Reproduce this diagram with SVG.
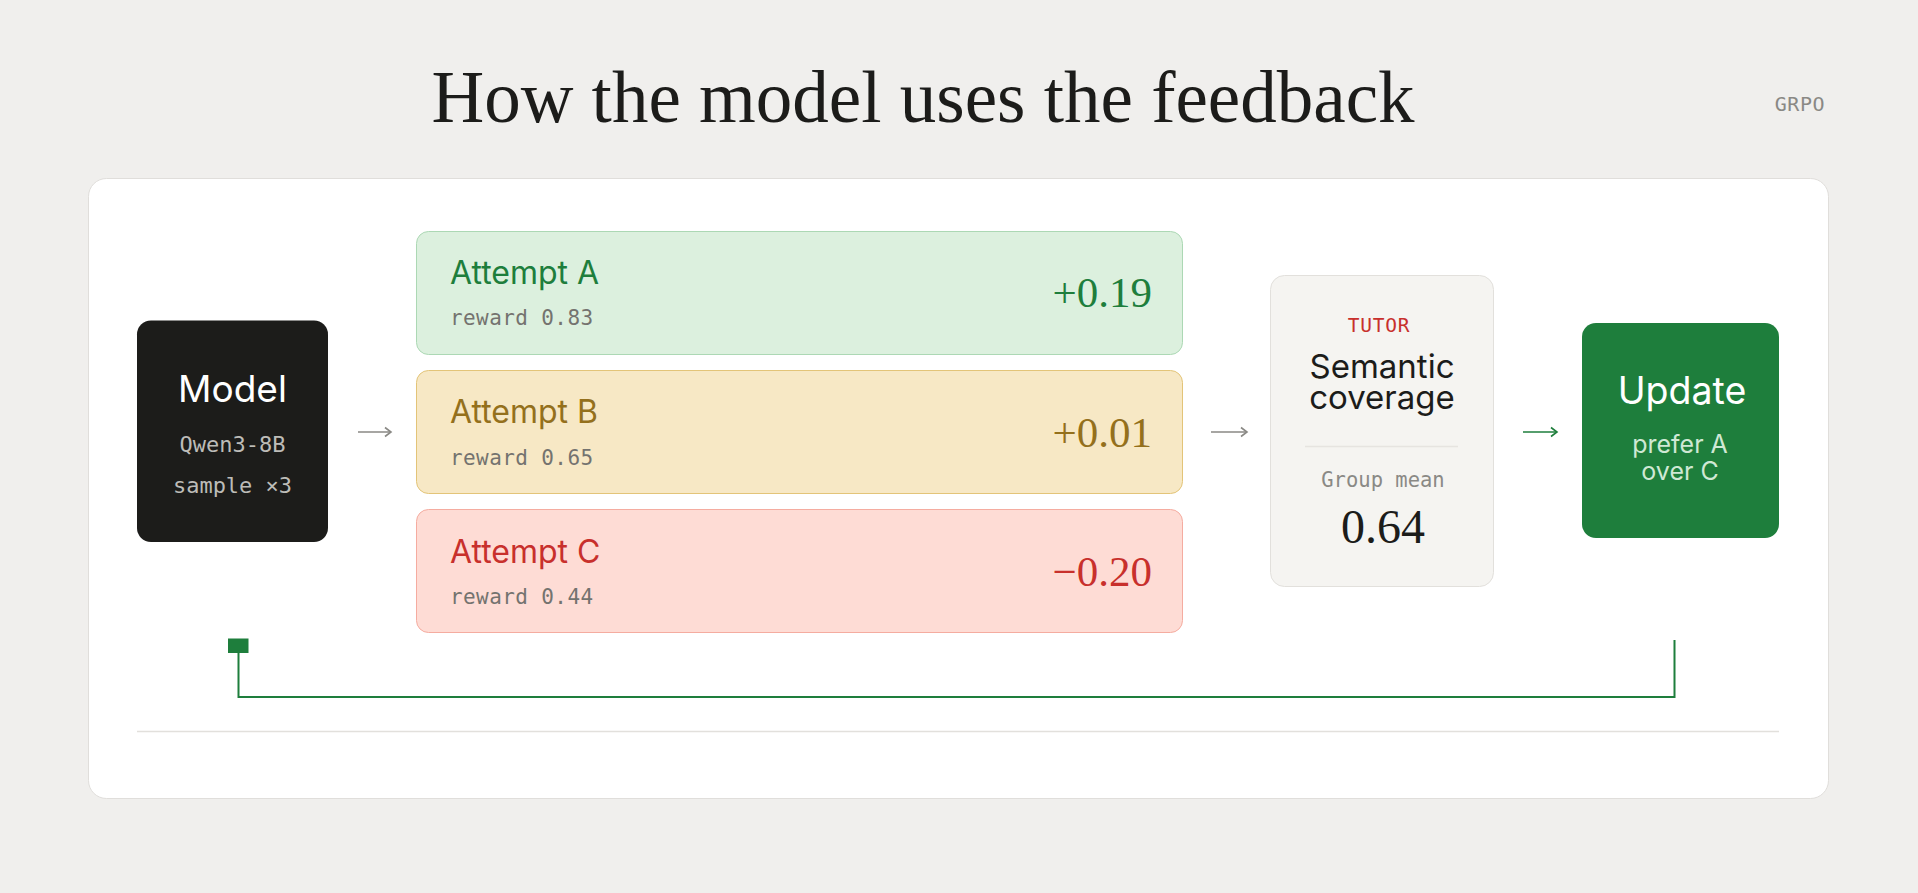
<svg xmlns="http://www.w3.org/2000/svg" width="1918" height="893" viewBox="0 0 1918 893">
<style>
.sans{font-family:Inter,"Open Sans","Liberation Sans",sans-serif}
.mono{font-family:"DejaVu Sans Mono","Liberation Mono",monospace}
.serif{font-family:"Liberation Serif","DejaVu Serif",serif}
.att{font-size:32px}
.rew{font-size:21px;fill:#74736f;letter-spacing:0.4px}
.delta{font-size:43px;text-anchor:end}
.arrow{fill:none;stroke-width:1.6}
</style>
<defs>
<marker id="hg" markerUnits="userSpaceOnUse" markerWidth="12" markerHeight="12" refX="8" refY="6" orient="auto">
<path d="M2,1.5 L8,6 L2,10.5" fill="none" stroke="#8a8985" stroke-width="1.6"/>
</marker>
<marker id="hgreen" markerUnits="userSpaceOnUse" markerWidth="12" markerHeight="12" refX="8" refY="6" orient="auto">
<path d="M2,1.5 L8,6 L2,10.5" fill="none" stroke="#1e7e3c" stroke-width="1.6"/>
</marker>
</defs>
<rect width="1918" height="893" fill="#f0efed"/>
<text class="serif" x="923" y="122" font-size="73" text-anchor="middle" fill="#1c1c1a">How the model uses the feedback</text>
<text class="mono" x="1825" y="111" font-size="20" text-anchor="end" fill="#8a8985" letter-spacing="0.5">GRPO</text>
<rect x="88.5" y="178.5" width="1740" height="620" rx="18" fill="#ffffff" stroke="#e0dedb" stroke-width="1"/>
<line x1="137" y1="731.5" x2="1779" y2="731.5" stroke="#e2e0dc" stroke-width="1.5"/>

<g id="model">
<rect x="137" y="320.5" width="191" height="221.5" rx="14" fill="#1c1c1a"/>
<text class="sans" x="232.5" y="402" font-size="37" text-anchor="middle" fill="#ffffff">Model</text>
<text class="mono" x="232.5" y="452" font-size="22" text-anchor="middle" fill="#bdbcb8">Qwen3-8B</text>
<text class="mono" x="232.5" y="492.5" font-size="22" text-anchor="middle" fill="#bdbcb8">sample ×3</text>
</g>

<g id="attemptA">
<rect x="416.5" y="231.5" width="766" height="123" rx="12" fill="#dcf0de" stroke="#acd8b4" stroke-width="1"/>
<text class="sans att" x="450" y="284" fill="#1e7e3c">Attempt A</text>
<text class="mono rew" x="450" y="325">reward 0.83</text>
<text class="serif delta" x="1152" y="307" fill="#1e7e3c">+0.19</text>
</g>
<g id="attemptB">
<rect x="416.5" y="370.5" width="766" height="123" rx="12" fill="#f7e8c5" stroke="#e3c478" stroke-width="1"/>
<text class="sans att" x="450" y="423" fill="#94701c">Attempt B</text>
<text class="mono rew" x="450" y="464.5">reward 0.65</text>
<text class="serif delta" x="1152" y="446.5" fill="#94701c">+0.01</text>
</g>
<g id="attemptC">
<rect x="416.5" y="509.5" width="766" height="123" rx="12" fill="#fedcd5" stroke="#f5aca0" stroke-width="1"/>
<text class="sans att" x="450" y="562.5" fill="#c8302c">Attempt C</text>
<text class="mono rew" x="450" y="604">reward 0.44</text>
<text class="serif delta" x="1152" y="586" fill="#c8302c">−0.20</text>
</g>

<g id="tutor">
<rect x="1270.5" y="275.5" width="223" height="311" rx="14" fill="#f5f4f1" stroke="#e2e0dc" stroke-width="1"/>
<text class="mono" x="1379" y="331.5" font-size="19.5" text-anchor="middle" fill="#c8302c" letter-spacing="0.8">TUTOR</text>
<text class="sans" x="1382" y="378" font-size="33" text-anchor="middle" fill="#1c1c1a">Semantic</text>
<text class="sans" x="1382" y="409" font-size="33" text-anchor="middle" fill="#1c1c1a">coverage</text>
<line x1="1305" y1="446.5" x2="1458" y2="446.5" stroke="#e6e4e0" stroke-width="1.5"/>
<text class="mono" x="1383" y="487" font-size="20.5" text-anchor="middle" fill="#8a8985">Group mean</text>
<text class="serif" x="1383" y="543" font-size="48" text-anchor="middle" fill="#1c1c1a">0.64</text>
</g>

<g id="update">
<rect x="1582" y="323" width="197" height="215" rx="14" fill="#1e7e3c"/>
<text class="sans" x="1682" y="403.5" font-size="37.5" text-anchor="middle" fill="#ffffff">Update</text>
<text class="sans" x="1680" y="452.5" font-size="25" text-anchor="middle" fill="#cfe8d4">prefer A</text>
<text class="sans" x="1680" y="479.5" font-size="25" text-anchor="middle" fill="#cfe8d4">over C</text>
</g>

<g id="connectors">
<line class="arrow" x1="358" y1="432" x2="391" y2="432" stroke="#8a8985" marker-end="url(#hg)"/>
<line class="arrow" x1="1211" y1="432" x2="1247" y2="432" stroke="#8a8985" marker-end="url(#hg)"/>
<line class="arrow" x1="1523" y1="432" x2="1557" y2="432" stroke="#1e7e3c" marker-end="url(#hgreen)"/>
<path d="M1674.5,640 V697 H238.5 V653" fill="none" stroke="#1e7e3c" stroke-width="2"/>
<rect x="228" y="638.5" width="20.5" height="14.5" fill="#1e7e3c"/>
</g>
</svg>
